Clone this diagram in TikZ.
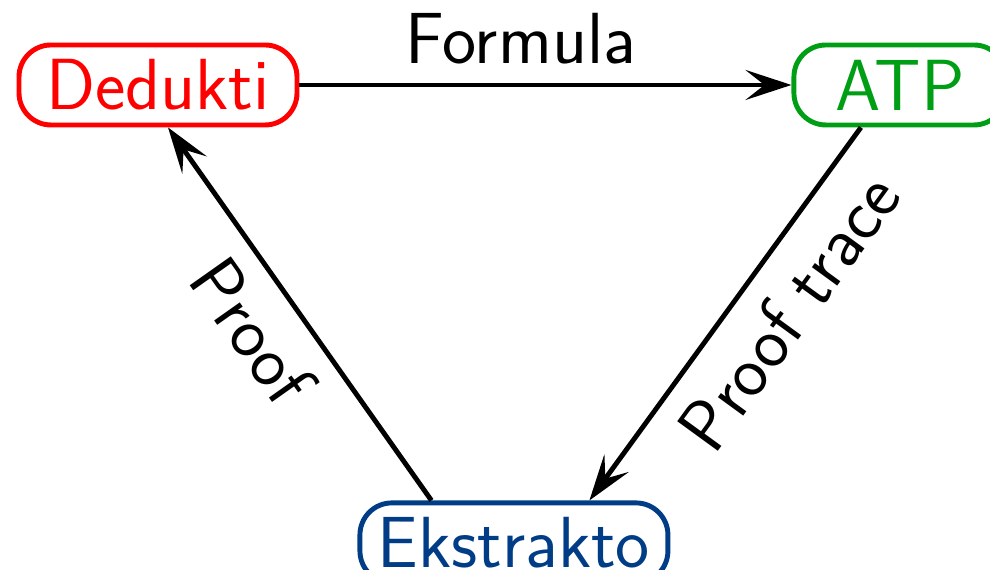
\documentclass[tikz,border=0pt]{standalone}
\usetikzlibrary{arrows.meta,positioning}
\usepackage{xcolor}
\definecolor{atpgreen}{RGB}{0,158,20}
\definecolor{ekblue}{RGB}{0,61,134}

\begin{document}
\begin{tikzpicture}[
  font=\sffamily\fontsize{20.6}{24}\selectfont,
  tool/.style={draw, line width=1.4pt, rounded corners=0.32cm, inner xsep=0.1cm, minimum height=0.8cm},
  arr/.style={-{Stealth[length=0.46cm, width=0.3cm, inset=0.19cm]}, line width=1.4pt}
]
\useasboundingbox (0,0) rectangle (9.9,5.7);
\node[tool, red, minimum width=2.78cm] at (1.58,4.85) (ded) {Dedukti};
\node[tool, atpgreen, minimum width=2.12cm, right=4.92cm of ded] (atp) {ATP};
\node[tool, ekblue, minimum width=3.08cm, below right=3.73cm and 0.58cm of ded] (ekst) {Ekstrakto};
\draw[arr] (ded) -- node[pos=0.45, above=0.07cm] (lform) {Formula} (atp);
\draw[arr] ([xshift=-0.39cm]atp.south) -- node[pos=0.415, sloped, below=0.1cm] (ltrace) {Proof trace} ([xshift=0.755cm]ekst.north);
\draw[arr] ([xshift=-0.825cm]ekst.north) -- node[pos=0.53, sloped, below=0.08cm] (lproof) {Proof} ([xshift=0.10cm]ded.south);
\end{tikzpicture}
\end{document}
